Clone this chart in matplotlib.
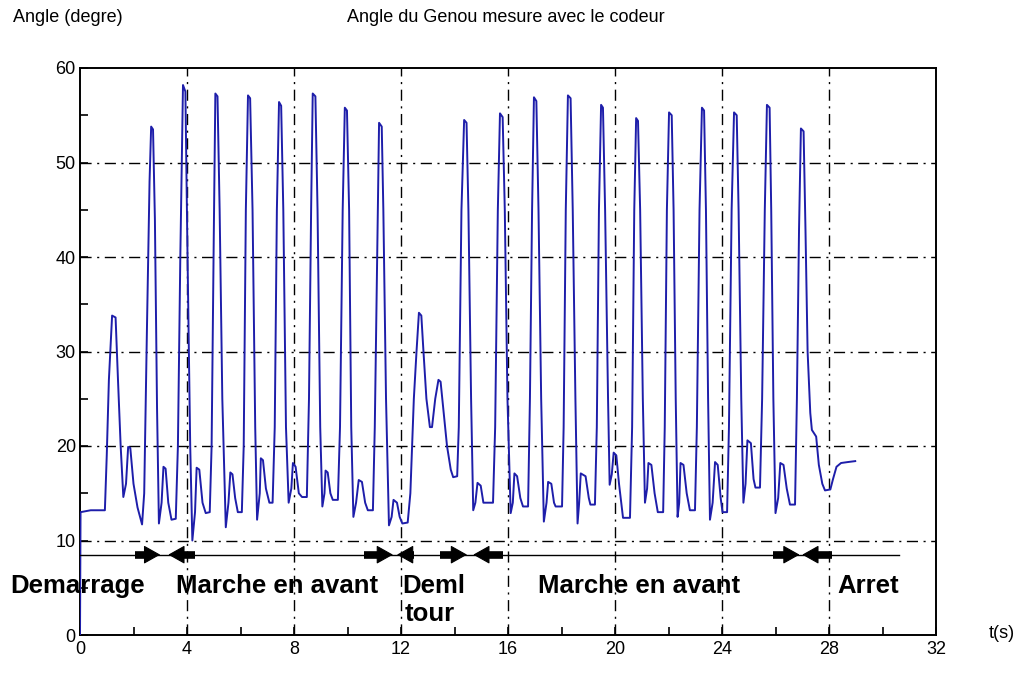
import matplotlib
matplotlib.use("Agg")
import matplotlib.pyplot as plt
from matplotlib.ticker import MultipleLocator

plt.rcParams['font.family'] = ['Liberation Sans', 'DejaVu Sans']

# Knee angle recorded by the encoder (time in s, angle in degrees)
time_s = [
    0.00, 0.02, 0.40, 0.93, 1.00, 1.08, 1.20, 1.33, 1.42, 1.52, 1.62, 1.72, 1.80, 1.88,
    2.00, 2.15, 2.32, 2.40, 2.50, 2.60, 2.66, 2.73, 2.80, 2.88, 2.95, 3.05, 3.12, 3.20,
    3.30, 3.42, 3.58, 3.66, 3.75, 3.85, 3.94, 4.02, 4.12, 4.20, 4.30, 4.36, 4.46, 4.58,
    4.70, 4.85, 4.92, 5.00, 5.06, 5.14, 5.22, 5.32, 5.45, 5.55, 5.62, 5.70, 5.80, 5.90,
    6.05, 6.12, 6.20, 6.28, 6.36, 6.45, 6.55, 6.62, 6.72, 6.76, 6.84, 6.95, 7.08, 7.20,
    7.28, 7.36, 7.44, 7.52, 7.60, 7.70, 7.80, 7.90, 7.96, 8.06, 8.18, 8.30, 8.48, 8.56,
    8.64, 8.70, 8.80, 8.88, 8.98, 9.06, 9.14, 9.18, 9.26, 9.36, 9.45, 9.64, 9.72, 9.82,
    9.90, 9.98, 10.06, 10.14, 10.22, 10.32, 10.42, 10.54, 10.66, 10.76, 10.95, 11.02,
    11.12, 11.18, 11.28, 11.34, 11.44, 11.55, 11.65, 11.72, 11.85, 11.95, 12.05, 12.25,
    12.35, 12.48, 12.58, 12.67, 12.76, 12.84, 12.95, 13.08, 13.16, 13.28, 13.40, 13.48,
    13.58, 13.72, 13.86, 13.95, 14.10, 14.16, 14.26, 14.36, 14.45, 14.52, 14.62, 14.70,
    14.78, 14.86, 14.98, 15.08, 15.44, 15.52, 15.62, 15.70, 15.80, 15.88, 15.98, 16.10,
    16.18, 16.24, 16.34, 16.46, 16.56, 16.75, 16.82, 16.90, 16.97, 17.06, 17.14, 17.24,
    17.34, 17.44, 17.50, 17.62, 17.72, 17.78, 18.02, 18.08, 18.16, 18.24, 18.34, 18.42,
    18.52, 18.60, 18.66, 18.72, 18.90, 19.02, 19.08, 19.25, 19.32, 19.40, 19.48, 19.55,
    19.63, 19.74, 19.80, 19.88, 19.95, 20.05, 20.15, 20.30, 20.56, 20.64, 20.72, 20.79,
    20.86, 20.94, 21.04, 21.12, 21.20, 21.25, 21.36, 21.48, 21.60, 21.80, 21.86, 21.94,
    22.02, 22.12, 22.19, 22.27, 22.34, 22.40, 22.45, 22.56, 22.68, 22.80, 22.99, 23.06,
    23.16, 23.25, 23.33, 23.40, 23.48, 23.55, 23.65, 23.74, 23.84, 23.95, 24.02, 24.19,
    24.26, 24.36, 24.45, 24.55, 24.62, 24.72, 24.80, 24.88, 24.95, 25.08, 25.18, 25.25,
    25.42, 25.50, 25.60, 25.68, 25.78, 25.84, 25.92, 26.00, 26.10, 26.18, 26.30, 26.42,
    26.54, 26.73, 26.80, 26.88, 26.95, 27.05, 27.12, 27.20, 27.30, 27.36, 27.52, 27.62,
    27.75, 27.85, 28.05, 28.15, 28.28, 28.45, 28.70, 28.98,
]
angle_deg = [
    0.0, 13.0, 13.2, 13.2, 19.0, 27.0, 33.8, 33.6, 27.0, 20.0, 14.6, 16.0, 19.9, 19.8,
    16.0, 13.5, 11.7, 15.0, 32.0, 48.0, 53.8, 53.5, 44.0, 24.0, 11.8, 14.0, 17.8, 17.6,
    14.0, 12.2, 12.3, 20.0, 40.0, 58.2, 57.5, 40.0, 20.0, 10.0, 13.0, 17.7, 17.5, 14.0,
    12.9, 13.0, 20.0, 42.0, 57.3, 57.0, 45.0, 25.0, 11.4, 14.0, 17.2, 17.0, 14.5, 13.0,
    13.0, 20.0, 45.0, 57.1, 56.8, 45.0, 22.0, 12.2, 15.0, 18.7, 18.5, 15.5, 14.0, 14.0,
    22.0, 45.0, 56.4, 56.0, 45.0, 22.0, 14.0, 15.5, 18.2, 17.8, 15.0, 14.6, 14.6, 25.0,
    45.0, 57.3, 57.0, 45.0, 22.0, 13.6, 15.0, 17.4, 17.2, 15.0, 14.3, 14.3, 22.0, 45.0,
    55.8, 55.5, 45.0, 22.0, 12.5, 14.0, 16.4, 16.2, 14.0, 13.2, 13.2, 22.0,
    42.0, 54.2, 53.8, 45.0, 25.0, 11.6, 12.5, 14.3, 14.0, 12.5, 11.8, 11.9,
    15.0, 25.0, 30.0, 34.1, 33.8, 30.0, 25.0, 22.0, 22.0, 25.0, 27.0, 26.8,
    24.0, 20.0, 17.5, 16.7, 16.8, 22.0, 45.0, 54.5, 54.2, 45.0, 25.0, 13.2,
    14.0, 16.1, 15.8, 14.0, 14.0, 22.0, 45.0, 55.2, 54.8, 45.0, 25.0, 12.9,
    14.0, 17.1, 16.8, 14.5, 13.6, 13.6, 25.0, 45.0, 56.9, 56.5, 45.0, 25.0,
    12.0, 14.0, 16.2, 16.0, 14.0, 13.6, 13.6, 22.0, 45.0, 57.1, 56.8, 45.0,
    25.0, 11.8, 14.0, 17.1, 16.8, 14.5, 13.8, 13.8, 22.0, 45.0, 56.1, 55.8,
    45.0, 25.0, 15.9, 17.0, 19.3, 19.0, 16.0, 12.4, 12.4, 22.0, 45.0, 54.7,
    54.4, 45.0, 25.0, 14.0, 15.5, 18.2, 18.0, 15.0, 13.0, 13.0, 22.0, 45.0,
    55.3, 55.0, 45.0, 25.0, 12.5, 14.0, 18.2, 18.0, 15.0, 13.2, 13.2, 22.0,
    45.0, 55.8, 55.5, 45.0, 25.0, 12.2, 14.0, 18.3, 18.0, 14.5, 13.0, 13.0,
    22.0, 45.0, 55.3, 55.0, 45.0, 25.0, 14.0, 16.0, 20.6, 20.3, 16.5, 15.6,
    15.6, 25.0, 45.0, 56.1, 55.8, 45.0, 25.0, 12.9, 14.5, 18.2, 18.0, 15.5,
    13.8, 13.8, 25.0, 43.0, 53.6, 53.3, 43.0, 30.0, 23.5, 21.7, 21.0, 18.0,
    16.0, 15.3, 15.4, 16.5, 17.8, 18.2, 18.3, 18.4,
]

# Gait phases: labels, label anchor (t, angle), and the arrows marking phase limits
phase_labels = ["Demarrage", "Marche en avant", "Deml", "tour", "Marche en avant", "Arret"]
phase_label_t = [-2.62, 3.59, 12.04, 12.15, 17.12, 28.3]
phase_label_y = [4.45, 4.45, 4.45, 1.5, 4.45, 4.45]

timeline_y = 8.5
timeline_t = [0.0, 30.6]
arrow_tails = [2.06, 4.3, 10.6, 12.5, 13.46, 15.8, 25.9, 28.1]
arrow_heads = [3.0, 3.3, 11.7, 11.85, 14.47, 14.7, 26.9, 27.0]

W, H, DPI = 1027, 673, 100
fig = plt.figure(figsize=(W / DPI, H / DPI), dpi=DPI)
ax = fig.add_axes([80 / W, 1 - 635 / H, 856 / W, 567 / H])

grid_style = dict(color='black', lw=1.0, linestyle=(0, (8, 4, 1.5, 4)), zorder=1)
for gx in range(4, 32, 4):
    ax.axvline(gx, **grid_style)
for gy in range(10, 60, 10):
    ax.axhline(gy, **grid_style)

ax.plot(time_s, angle_deg, color='#1e1eaa', lw=1.4, zorder=3)

# phase timeline: thin base line, thick arrow shafts with filled heads
ax.plot(timeline_t, [timeline_y, timeline_y], color='black', lw=1.0, zorder=4)
head_len = 0.4  # in seconds along the axis
for tail, head in zip(arrow_tails, arrow_heads):
    d = 1 if head > tail else -1
    ax.plot([tail, head - d * head_len * 0.9], [timeline_y, timeline_y],
            color='black', lw=5.5, solid_capstyle='butt', zorder=5)
    ax.annotate('', xy=(head, timeline_y), xytext=(head - d * head_len, timeline_y),
                arrowprops=dict(arrowstyle='-|>,head_length=0.75,head_width=0.42',
                                lw=0.8, color='black', shrinkA=0, shrinkB=0,
                                mutation_scale=14),
                zorder=5, annotation_clip=False)

for lab, tx, ty in zip(phase_labels, phase_label_t, phase_label_y):
    ax.text(tx, ty, lab, fontsize=18.5, fontweight='bold', ha='left', va='baseline',
            zorder=6, clip_on=False)

ax.set_xlim(0, 32)
ax.set_ylim(0, 60)
ax.xaxis.set_major_locator(MultipleLocator(4))
ax.xaxis.set_minor_locator(MultipleLocator(2))
ax.yaxis.set_major_locator(MultipleLocator(10))
ax.yaxis.set_minor_locator(MultipleLocator(5))
ax.tick_params(which='both', direction='in', length=6, width=1.2, labelsize=13,
               top=False, right=False)
ax.tick_params(axis='x', pad=4)
ax.tick_params(axis='y', pad=3)
for sp in ax.spines.values():
    sp.set_linewidth(1.4)

fig.text(13 / W, 1 - 18 / H, "Angle (degre)", fontsize=13, ha='left', va='center')
fig.text(506 / W, 1 - 18 / H, "Angle du Genou mesure avec le codeur", fontsize=13,
         ha='center', va='center')
fig.text(1002 / W, 1 - 633 / H, "t(s)", fontsize=13, ha='center', va='center')

fig.savefig("out.png", dpi=DPI)
